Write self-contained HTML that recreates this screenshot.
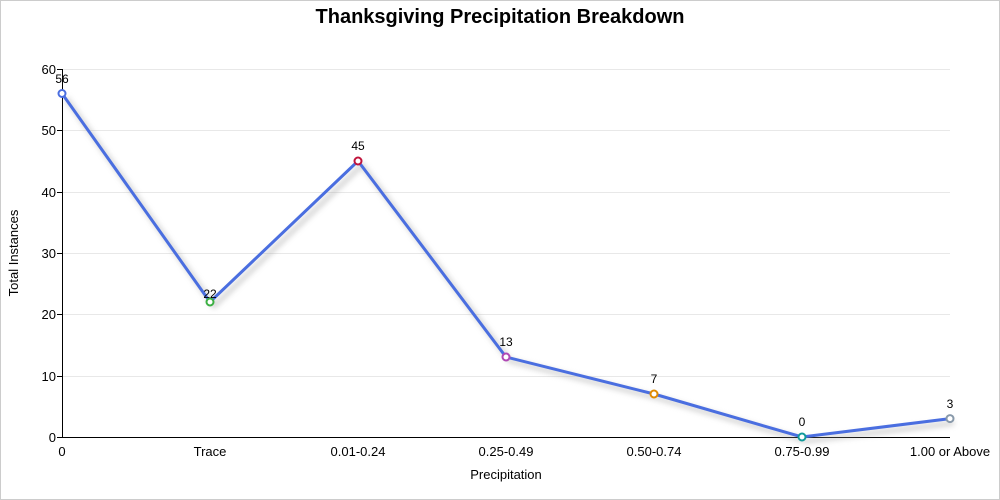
<!DOCTYPE html>
<html><head><style>body{margin:0;background:#fff}svg{display:block;font-family:"Liberation Sans",sans-serif}</style></head><body>
<svg width="1000" height="500" viewBox="0 0 1000 500">
<rect x="0.5" y="0.5" width="999" height="499" fill="#fff" stroke="#ccc"/>
<text x="500" y="23" text-anchor="middle" font-size="20" font-weight="bold">Thanksgiving Precipitation Breakdown</text>
<g stroke="#e8e8e8" stroke-width="1">
<line x1="62" x2="950" y1="69.5" y2="69.5"/><line x1="62" x2="950" y1="130.5" y2="130.5"/><line x1="62" x2="950" y1="192.5" y2="192.5"/><line x1="62" x2="950" y1="253.5" y2="253.5"/><line x1="62" x2="950" y1="314.5" y2="314.5"/><line x1="62" x2="950" y1="376.5" y2="376.5"/></g>
<line x1="62.5" x2="62.5" y1="69" y2="437" stroke="#000"/>
<line x1="62" x2="950" y1="437.5" y2="437.5" stroke="#000"/>
<g stroke="#000"><line x1="57" x2="62" y1="69.5" y2="69.5"/><line x1="57" x2="62" y1="130.5" y2="130.5"/><line x1="57" x2="62" y1="192.5" y2="192.5"/><line x1="57" x2="62" y1="253.5" y2="253.5"/><line x1="57" x2="62" y1="314.5" y2="314.5"/><line x1="57" x2="62" y1="376.5" y2="376.5"/><line x1="57" x2="62" y1="437.5" y2="437.5"/></g>
<g font-size="13" text-anchor="end"><text x="56" y="74">60</text><text x="56" y="135">50</text><text x="56" y="197">40</text><text x="56" y="258">30</text><text x="56" y="319">20</text><text x="56" y="381">10</text><text x="56" y="442">0</text></g>
<g font-size="13" text-anchor="middle"><text x="62" y="456">0</text><text x="210" y="456">Trace</text><text x="358" y="456">0.01-0.24</text><text x="506" y="456">0.25-0.49</text><text x="654" y="456">0.50-0.74</text><text x="802" y="456">0.75-0.99</text><text x="950" y="456">1.00 or Above</text></g>
<text x="506" y="479" font-size="13" text-anchor="middle">Precipitation</text>
<text transform="translate(18,253) rotate(-90)" font-size="13" text-anchor="middle">Total Instances</text>
<defs><filter id="s" x="-20%" y="-20%" width="140%" height="140%"><feGaussianBlur stdDeviation="3"/></filter></defs>
<polyline points="66,98 214,306 362,165 510,361 658,398 806,441 954,423" fill="none" stroke="#999" stroke-width="4" opacity="0.5" filter="url(#s)"/>
<polyline points="62,93.5 210,302 358,161 506,357 654,394 802,437 950,418.6" fill="none" stroke="#4a6ee0" stroke-width="3"/>
<g stroke-width="2" fill="#fff">
<circle cx="62" cy="93.5" r="3.5" stroke="#4a6ee0"/><circle cx="210" cy="302" r="3.5" stroke="#3cb043"/><circle cx="358" cy="161" r="3.5" stroke="#c0143c"/><circle cx="506" cy="357" r="3.5" stroke="#b048b5"/><circle cx="654" cy="394" r="3.5" stroke="#e08a00"/><circle cx="802" cy="437" r="3.5" stroke="#119a9a"/><circle cx="950" cy="418.6" r="3.5" stroke="#8899aa"/></g>
<g font-size="12" text-anchor="middle"><text x="62" y="83">56</text><text x="210" y="298">22</text><text x="358" y="150">45</text><text x="506" y="346">13</text><text x="654" y="383">7</text><text x="802" y="426">0</text><text x="950" y="408">3</text></g>
</svg>
</body></html>
